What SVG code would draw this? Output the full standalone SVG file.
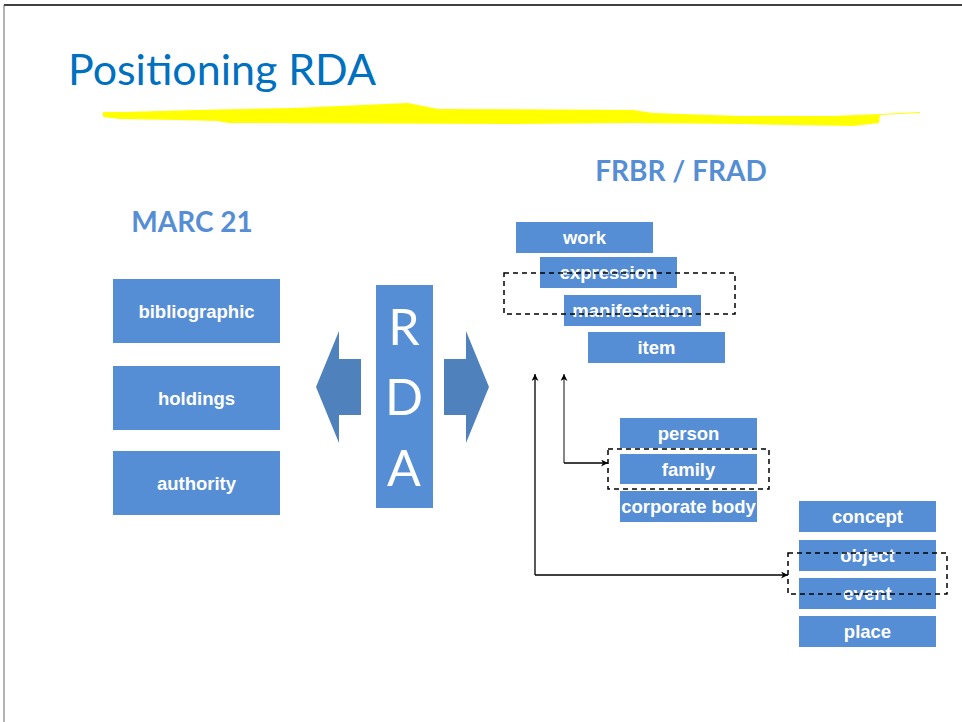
<svg xmlns="http://www.w3.org/2000/svg" width="962" height="722" viewBox="0 0 962 722">
<defs>
<style>
.box{fill:#558ED5}
.lbl{font-family:"Liberation Sans",Arial,sans-serif;font-weight:bold;font-size:18.5px;fill:#fff;text-anchor:middle}
.hd{font-family:Lato,"Open Sans",sans-serif;font-weight:bold;font-size:28px;fill:#558ED5;text-anchor:middle}
.dash{fill:none;stroke:#000;stroke-width:1.5;stroke-dasharray:5 4}
.rda{font-family:Lato,"Open Sans",sans-serif;font-size:50px;fill:#fff;text-anchor:middle}
</style>
<marker id="ah" viewBox="0 0 10 10" refX="10" refY="5" markerWidth="7" markerHeight="7" orient="auto" markerUnits="userSpaceOnUse">
<path d="M0,0 L10,5 L0,10 L3,5 Z" fill="#000"/>
</marker>
</defs>
<rect width="962" height="722" fill="#fff"/>
<line x1="4" y1="5" x2="962" y2="5" stroke="#000" stroke-width="1.5"/>
<line x1="4" y1="5" x2="4" y2="722" stroke="#666" stroke-width="1"/>
<text x="68" y="85" font-family="Lato,'Open Sans',sans-serif" font-size="42" fill="#0070C0" textLength="308" lengthAdjust="spacingAndGlyphs">Positioning RDA</text>
<path d="M103,112 L125,112 L195,110 L295,108 L408,103 L438,109 L633,110 L653,113 L740,116 L833,116 L880,114 L920,112 L920,113 L880,115 L879,123 L853,126 L793,125 L743,124 L630,123 L515,124 L228,123 L218,121 L178,120 L120,119 L103,117 Z" fill="#FFFF00"/>
<text class="hd" x="192" y="232">MARC 21</text>
<text class="hd" x="681" y="181">FRBR / FRAD</text>
<g id="bibliographic"><rect class="box" x="113" y="279" width="167" height="64"/><text class="lbl" x="196.5" y="318">bibliographic</text></g>
<g id="holdings"><rect class="box" x="113" y="366" width="167" height="64"/><text class="lbl" x="196.5" y="405">holdings</text></g>
<g id="authority"><rect class="box" x="113" y="451" width="167" height="64"/><text class="lbl" x="196.5" y="490">authority</text></g>
<g id="arrow-left"><polygon points="316,387 339,331 339,359 361,359 361,415 339,415 339,443" fill="#4F81BD"/></g>
<g id="arrow-right"><polygon points="489,387 466,331 466,359 444,359 444,415 466,415 466,443" fill="#4F81BD"/></g>
<g id="rda"><rect class="box" x="376" y="285" width="57" height="223"/>
<text class="rda" x="404" y="345">R</text><text class="rda" x="404" y="415">D</text><text class="rda" x="404" y="486">A</text></g>
<g id="work"><rect class="box" x="516" y="222" width="137" height="31"/><text class="lbl" x="584.5" y="244">work</text></g>
<g id="expression"><rect class="box" x="540" y="257" width="137" height="31"/><text class="lbl" x="608.5" y="279">expression</text></g>
<g id="manifestation"><rect class="box" x="564" y="295" width="137" height="31"/><text class="lbl" x="632.5" y="317">manifestation</text></g>
<g id="item"><rect class="box" x="588" y="332" width="137" height="31"/><text class="lbl" x="656.5" y="354">item</text></g>
<g id="person"><rect class="box" x="620" y="418" width="137" height="30"/><text class="lbl" x="688.5" y="440">person</text></g>
<g id="family"><rect class="box" x="620" y="454" width="137" height="30"/><text class="lbl" x="688.5" y="476">family</text></g>
<g id="corporate-body"><rect class="box" x="620" y="491" width="137" height="31"/><text class="lbl" x="688.5" y="513">corporate body</text></g>
<g id="concept"><rect class="box" x="799" y="501" width="137" height="31"/><text class="lbl" x="867.5" y="523">concept</text></g>
<g id="object"><rect class="box" x="799" y="540" width="137" height="31"/><text class="lbl" x="867.5" y="562">object</text></g>
<g id="event"><rect class="box" x="799" y="578" width="137" height="31"/><text class="lbl" x="867.5" y="600">event</text></g>
<g id="place"><rect class="box" x="799" y="616" width="137" height="31"/><text class="lbl" x="867.5" y="638">place</text></g>
<g id="groups">
<rect class="dash" x="504" y="273" width="231" height="41"/>
<rect class="dash" x="608" y="449" width="161" height="40"/>
<rect class="dash" x="788" y="553" width="159" height="41"/>
</g>
<g id="connectors" fill="none" stroke-width="1.3">
<polyline points="535,575 535,374" stroke="#000" marker-end="url(#ah)"/>
<polyline points="535,575 788,575" stroke="#000" marker-end="url(#ah)"/>
<polyline points="564,463 564,374" stroke="#444" marker-end="url(#ah)"/>
<polyline points="564,463 608,463" stroke="#000" marker-end="url(#ah)"/>
</g>
</svg>
